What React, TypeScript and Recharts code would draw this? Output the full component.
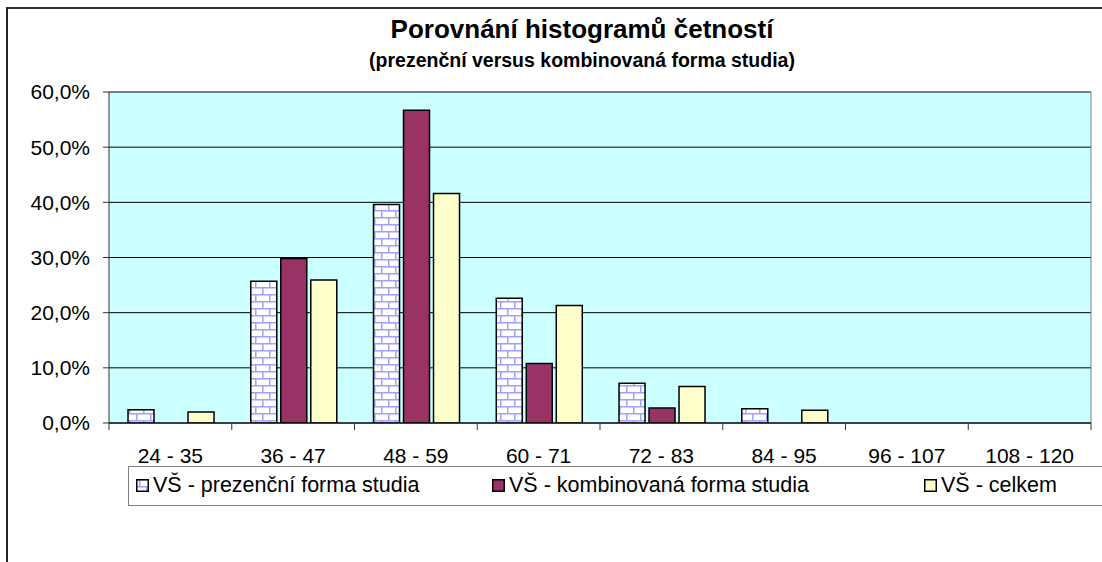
import React from 'react';
import { BarChart, Bar, XAxis, YAxis, CartesianGrid } from 'recharts';

const categories = ['24 - 35', '36 - 47', '48 - 59', '60 - 71', '72 - 83', '84 - 95', '96 - 107', '108 - 120'];
const prezencni = [2.4, 25.7, 39.6, 22.6, 7.2, 2.6, 0, 0];
const kombinovana = [0, 29.8, 56.7, 10.8, 2.7, 0, 0, 0];
const celkem = [2.0, 25.9, 41.6, 21.3, 6.6, 2.3, 0, 0];
const yTicks = [0, 10, 20, 30, 40, 50, 60];
const seriesNames = ['VŠ - prezenční forma studia', 'VŠ - kombinovaná forma studia', 'VŠ - celkem'];
const titleText = 'Porovnání histogramů četností';
const subtitleText = '(prezenční versus kombinovaná forma studia)';

const data = categories.map((c, i) => ({
  cat: c,
  a: prezencni[i],
  b: kombinovana[i],
  c: celkem[i],
}));

const FONT = '"Liberation Sans", Arial, sans-serif';
const COLORS = ['url(#brick)', '#993366', '#FFFFCC'];

const fmtPct = (v: number) => v.toFixed(1).replace('.', ',') + '%';

const XTick = (props: any) => {
  const { x, y, payload, index } = props;
  const half = payload && payload.offset ? payload.offset : 61.4;
  const last = index === categories.length - 1;
  return (
    <g>
      <line x1={x - half} y1={y} x2={x - half} y2={y + 7} stroke="#333" strokeWidth={1} />
      {last && <line x1={x + half} y1={y} x2={x + half} y2={y + 7} stroke="#333" strokeWidth={1} />}
      <text x={x} y={y + 40} textAnchor="middle" fontSize={21} fontFamily={FONT} fill="#000">
        {payload.value}
      </text>
    </g>
  );
};

const Swatch = ({ fill }: { fill: string }) => (
  <svg width={13} height={13} style={{ display: 'block', marginRight: 4 }}>
    <rect x={0.75} y={0.75} width={11.5} height={11.5} fill={fill} stroke="#000" strokeWidth={1.5} />
  </svg>
);

export default function App() {
  return (
    <div style={{ position: 'absolute', left: 0, top: 0, width: 1102, height: 562, background: '#fff', overflow: 'hidden', fontFamily: FONT }}>
      <svg width={0} height={0} style={{ position: 'absolute' }}>
        <defs>
          <pattern id="brick" patternUnits="userSpaceOnUse" width={14} height={14}>
            <rect x={0} y={0} width={14} height={14} fill="#ffffff" />
            <line x1={0} y1={0.75} x2={14} y2={0.75} stroke="#a0a0ff" strokeWidth={1.5} />
            <line x1={0} y1={7.75} x2={14} y2={7.75} stroke="#a0a0ff" strokeWidth={1.5} />
            <line x1={3.75} y1={0} x2={3.75} y2={7} stroke="#a0a0ff" strokeWidth={1.5} />
            <line x1={10.75} y1={7} x2={10.75} y2={14} stroke="#a0a0ff" strokeWidth={1.5} />
          </pattern>
        </defs>
      </svg>
      <div style={{ position: 'absolute', left: 6, top: 7, width: 1200, height: 600, borderLeft: '2px solid #222', borderTop: '2px solid #333' }} />
      <div style={{ position: 'absolute', left: 0, width: 1164, top: 14, textAlign: 'center', fontSize: 26, fontWeight: 'bold', lineHeight: '30px' }}>
        {titleText}
      </div>
      <div style={{ position: 'absolute', left: 0, width: 1164, top: 48, textAlign: 'center', fontSize: 19.5, fontWeight: 'bold', lineHeight: '24px' }}>
        {subtitleText}
      </div>
      <div style={{ position: 'absolute', left: 0, top: 0 }}>
        <BarChart
          width={1102}
          height={562}
          data={data}
          margin={{ top: 92, right: 11, bottom: 99, left: 8 }}
          barCategoryGap="15.5%"
          barGap={4}
        >
          <CartesianGrid horizontal={true} vertical={false} stroke="#000" strokeOpacity={1} fill="#CCFFFF" fillOpacity={1} />
          <CartesianGrid
            horizontal={false}
            vertical={true}
            stroke="#808080"
            verticalCoordinatesGenerator={(p: any) => [p.offset.left + p.offset.width]}
          />
          <XAxis
            dataKey="cat"
            height={40}
            tickLine={false}
            tickSize={0}
            tickMargin={0}
            axisLine={{ stroke: '#000', strokeWidth: 1 }}
            tick={<XTick />}
            interval={0}
          />
          <YAxis
            width={101}
            domain={[0, 60]}
            ticks={yTicks}
            tickFormatter={fmtPct}
            tickSize={6}
            tickMargin={13}
            tickLine={{ stroke: '#333' }}
            axisLine={{ stroke: '#333' }}
            tick={{ fontSize: 21, fontFamily: FONT, fill: '#000' }}
            allowDataOverflow
          />
          <Bar dataKey="a" name={seriesNames[0]} fill={COLORS[0]} stroke="#000" strokeWidth={1.5} isAnimationActive={false} />
          <Bar dataKey="b" name={seriesNames[1]} fill={COLORS[1]} stroke="#000" strokeWidth={1.5} isAnimationActive={false} />
          <Bar dataKey="c" name={seriesNames[2]} fill={COLORS[2]} stroke="#000" strokeWidth={1.5} isAnimationActive={false} />
        </BarChart>
      </div>
      <div
        style={{
          position: 'absolute',
          left: 128,
          top: 466,
          width: 1000,
          height: 38,
          borderTop: '1px solid #808080',
          borderBottom: '1px solid #808080',
          borderLeft: '1px solid #808080',
        }}
      >
        {seriesNames.map((n, i) => (
          <div
            key={n}
            style={{
              position: 'absolute',
              left: [7, 363, 795][i],
              top: 0,
              height: 36,
              display: 'flex',
              alignItems: 'center',
              fontSize: 21.5,
              whiteSpace: 'nowrap',
            }}
          >
            <Swatch fill={COLORS[i]} />
            <span>{n}</span>
          </div>
        ))}
      </div>
    </div>
  );
}
